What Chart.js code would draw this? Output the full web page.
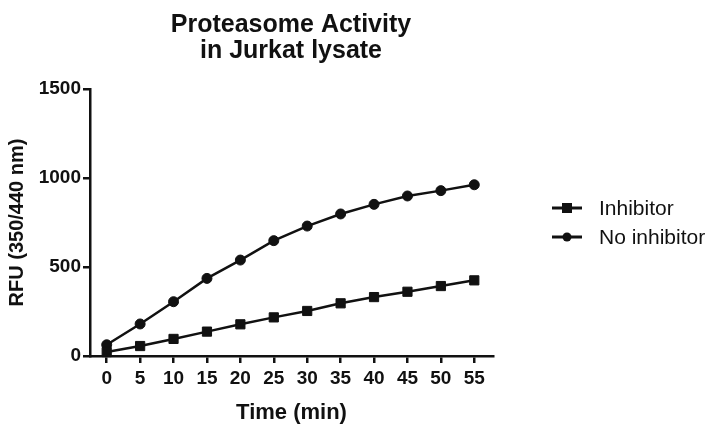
<!DOCTYPE html>
<html>
<head>
<meta charset="utf-8">
<script src="https://cdn.jsdelivr.net/npm/chart.js@4.4.0/dist/chart.umd.min.js"></script>
<style>
  html, body { margin: 0; padding: 0; background: #fff; }
  #wrap { width: 709px; height: 443px; }
</style>
</head>
<body>
<div id="wrap"><canvas id="chart" width="709" height="443"></canvas></div>
<script>
// values
const timeMin = [0, 5, 10, 15, 20, 25, 30, 35, 40, 45, 50, 55];
const inhibitor = [22, 56, 96, 137, 178, 217, 253, 296, 331, 361, 393, 425];
const noInhibitor = [63, 180, 305, 436, 539, 648, 730, 798, 852, 899, 929, 962];
const xTicks = [0, 5, 10, 15, 20, 25, 30, 35, 40, 45, 50, 55];
const yTicks = [0, 500, 1000, 1500];
const titleLines = ['Proteasome Activity', 'in Jurkat lysate'];

const ink = '#111';
const fontFam = '"Liberation Sans", Arial, Helvetica, sans-serif';

//Plugin for the title and the legend on the right
const extrasPlugin = {
    id: 'extras',
    afterDraw(chart) {
        const ctx = chart.ctx;
        ctx.save();
        ctx.fillStyle = ink;
        ctx.textAlign = 'center';
        ctx.textBaseline = 'alphabetic';
        ctx.font = `bold 25px ${fontFam}`;
        ctx.fillText(titleLines[0], 291, 32);
        ctx.fillText(titleLines[1], 291, 58);

        // legend
        const rows = [208, 237];
        chart.data.datasets.forEach((ds, i) => {
            const y = rows[i];
            ctx.strokeStyle = ink;
            ctx.lineWidth = 3;
            ctx.beginPath();
            ctx.moveTo(552, y);
            ctx.lineTo(582, y);
            ctx.stroke();
            ctx.fillStyle = ink;
            if (ds.pointStyle === 'rect') {
                ctx.fillRect(567 - 5, y - 5, 10, 10);
            } else {
                ctx.beginPath();
                ctx.arc(567, y, 4.5, 0, Math.PI * 2);
                ctx.fill();
            }
            ctx.textAlign = 'left';
            ctx.textBaseline = 'middle';
            ctx.font = `21px ${fontFam}`;
            ctx.fillText(ds.label, 599, y + 1);
        });
        ctx.restore();
    }
};

const config = {
    type: 'line',
    data: {
        datasets: [{
            label: 'Inhibitor',
            data: timeMin.map((t, i) => ({ x: t, y: inhibitor[i] })),
            borderColor: ink,
            backgroundColor: ink,
            borderWidth: 2.5,
            pointStyle: 'rect',
            pointRadius: 6.5,
            pointBorderWidth: 1,
            tension: 0,
            clip: false
        }, {
            label: 'No inhibitor',
            data: timeMin.map((t, i) => ({ x: t, y: noInhibitor[i] })),
            borderColor: ink,
            backgroundColor: ink,
            borderWidth: 2.5,
            pointStyle: 'circle',
            pointRadius: 5,
            pointBorderWidth: 1,
            tension: 0,
            clip: false
        }]
    },
    options: {
        responsive: false,
        animation: false,
        events: [],
        layout: { padding: { top: 89, right: 216, bottom: 0, left: 0 } },
        plugins: {
            legend: { display: false },
            title: { display: false },
            tooltip: { enabled: false }
        },
        scales: {
            x: {
                type: 'linear',
                min: -2.5,
                max: 57.8,
                afterBuildTicks: (scale) => { scale.ticks = xTicks.map(v => ({ value: v })); },
                afterFit: (scale) => { scale.height = 87; },
                border: { display: true, color: ink, width: 2.5 },
                grid: { drawOnChartArea: false, drawTicks: true, tickLength: 7, color: ink, lineWidth: 2.5 },
                ticks: { color: ink, padding: 4, maxRotation: 0, autoSkip: false, callback: (v) => String(v), font: { family: fontFam, size: 19, weight: 'bold' } },
                title: { display: true, text: 'Time (min)', color: ink, padding: { top: 0, bottom: 17 }, font: { family: fontFam, size: 22, weight: 'bold' } }
            },
            y: {
                type: 'linear',
                min: 0,
                max: 1500,
                afterBuildTicks: (scale) => { scale.ticks = yTicks.map(v => ({ value: v })); },
                afterFit: (scale) => { scale.width = 90; },
                border: { display: true, color: ink, width: 2.5 },
                grid: { drawOnChartArea: false, drawTicks: true, tickLength: 7, color: ink, lineWidth: 2.5 },
                ticks: { color: ink, padding: 2, callback: (v) => String(v), font: { family: fontFam, size: 19, weight: 'bold' } },
                title: { display: true, text: 'RFU (350/440 nm)', color: ink, padding: { top: 5, bottom: 0 }, font: { family: fontFam, size: 20, weight: 'bold' } }
            }
        }
    },
    plugins: [extrasPlugin]
};

new Chart(document.getElementById('chart'), config);
</script>
</body>
</html>
